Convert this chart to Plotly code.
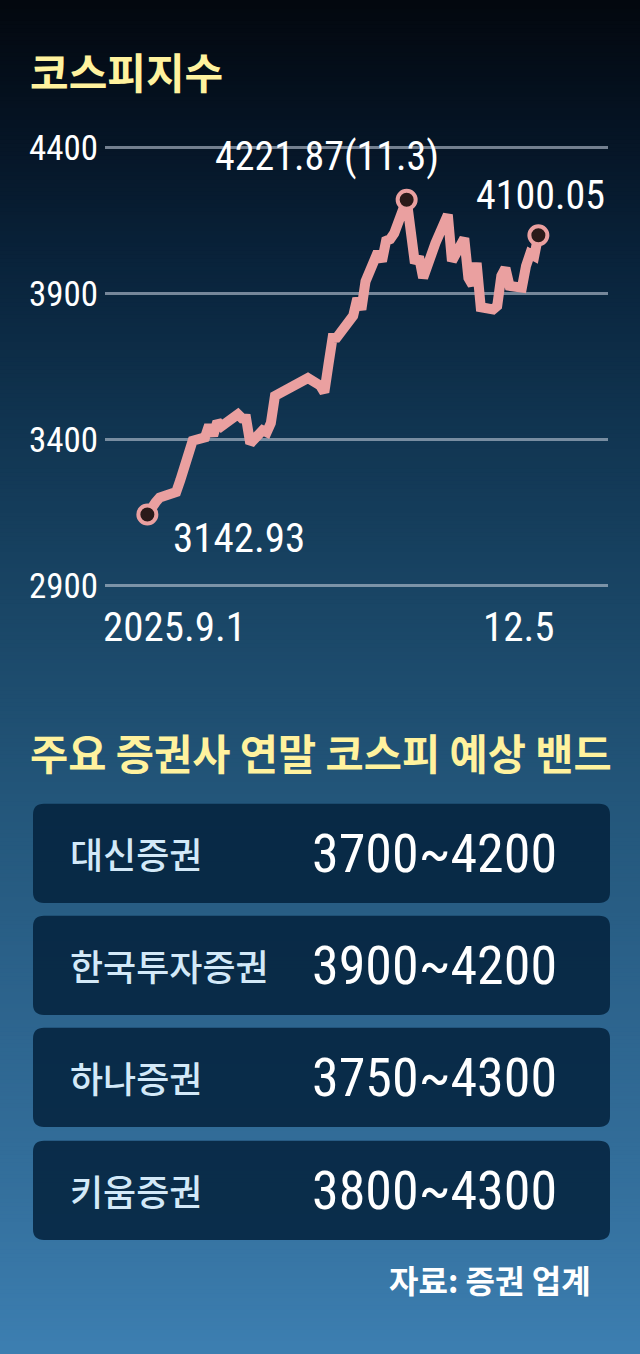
import plotly.graph_objects as go
import pandas as pd

W, H = 640, 1354

# ---------------- data ----------------
dates = [
    "2025-09-01", "2025-09-02", "2025-09-03", "2025-09-04", "2025-09-05",
    "2025-09-08", "2025-09-09", "2025-09-10", "2025-09-11", "2025-09-12",
    "2025-09-15", "2025-09-16", "2025-09-17", "2025-09-18", "2025-09-19",
    "2025-09-22", "2025-09-23", "2025-09-24", "2025-09-25", "2025-09-26",
    "2025-09-29", "2025-09-30",
    "2025-10-01", "2025-10-02", "2025-10-10", "2025-10-13", "2025-10-14",
    "2025-10-15", "2025-10-16", "2025-10-17", "2025-10-20", "2025-10-21",
    "2025-10-22", "2025-10-23", "2025-10-24", "2025-10-27", "2025-10-28",
    "2025-10-29", "2025-10-30", "2025-10-31",
    "2025-11-03", "2025-11-04", "2025-11-05", "2025-11-06", "2025-11-07",
    "2025-11-10", "2025-11-11", "2025-11-12", "2025-11-13", "2025-11-14",
    "2025-11-17", "2025-11-18", "2025-11-19", "2025-11-20", "2025-11-21",
    "2025-11-24", "2025-11-25", "2025-11-26", "2025-11-27", "2025-11-28",
    "2025-12-01", "2025-12-02", "2025-12-03", "2025-12-04", "2025-12-05",
]
kospi = [
    3142.93, 3172.35, 3184.42, 3200.83, 3205.12,
    3219.59, 3260.05, 3314.53, 3344.20, 3395.54,
    3407.31, 3449.62, 3413.26, 3461.30, 3445.24,
    3468.65, 3486.19, 3472.14, 3471.11, 3386.05,
    3431.21, 3424.60,
    3455.83, 3549.21, 3610.60, 3584.55, 3561.81,
    3657.28, 3748.37, 3748.89, 3814.69, 3823.84,
    3883.68, 3845.56, 3941.59, 4042.83, 4010.41,
    4081.15, 4086.89, 4107.50,
    4221.87, 4121.74, 4004.42, 4026.45, 3953.76,
    4073.24, 4106.39, 4150.39, 4170.63, 4011.57,
    4089.25, 3953.62, 3929.51, 4004.85, 3853.26,
    3846.06, 3857.78, 3960.87, 3986.91, 3926.59,
    3920.37, 3994.93, 4036.30, 4028.51, 4100.05,
]
y_ticks = [2900, 3400, 3900, 4400]
x_labels = ["2025.9.1", "12.5"]

title_main = "코스피지수"
title_band = "주요 증권사 연말 코스피 예상 밴드"
brokers = ["대신증권", "한국투자증권", "하나증권", "키움증권"]
band_low = [3700, 3900, 3750, 3800]
band_high = [4200, 4200, 4300, 4300]
source = "자료: 증권 업계"

# ---------------- styles ----------------
NUM_FONT = "Liberation Sans Narrow, Roboto Condensed, Arial Narrow, Liberation Sans, sans-serif"
KR_FONT = "Noto Sans CJK KR, Noto Sans, sans-serif"
YELLOW = "#fff29e"
LINE_COL = "#eaa0a0"
GRID_COL = "rgba(190,200,215,0.6)"

bg_stops = [
    (0, (3, 8, 15)), (120, (5, 19, 35)), (260, (9, 35, 59)), (420, (16, 52, 80)),
    (600, (25, 69, 101)), (800, (35, 86, 122)), (1000, (44, 99, 140)),
    (1200, (52, 112, 157)), (1354, (60, 126, 176)),
]


def X(p):
    return p / W


def Y(p):
    return 1 - p / H


def bg_color(p):
    for (p0, c0), (p1, c1) in zip(bg_stops[:-1], bg_stops[1:]):
        if p0 <= p <= p1:
            t = (p - p0) / (p1 - p0)
            return "rgb(%d,%d,%d)" % tuple(round(a + (b - a) * t) for a, b in zip(c0, c1))
    return "rgb(%d,%d,%d)" % bg_stops[-1][1]


def rrect(x0, y0, x1, y1, r):
    return (f"M {X(x0 + r)},{Y(y0)} L {X(x1 - r)},{Y(y0)} Q {X(x1)},{Y(y0)} {X(x1)},{Y(y0 + r)} "
            f"L {X(x1)},{Y(y1 - r)} Q {X(x1)},{Y(y1)} {X(x1 - r)},{Y(y1)} "
            f"L {X(x0 + r)},{Y(y1)} Q {X(x0)},{Y(y1)} {X(x0)},{Y(y1 - r)} "
            f"L {X(x0)},{Y(y0 + r)} Q {X(x0)},{Y(y0)} {X(x0 + r)},{Y(y0)} Z")


shapes = []
band = 4
for p in range(0, H, band):
    shapes.append(dict(type="rect", xref="paper", yref="paper", x0=-0.01, x1=1.01,
                       y0=Y(p + band + 1) if p + band < H else -0.02, y1=Y(p) if p > 0 else 1.02,
                       fillcolor=bg_color(p + band / 2),
                       line=dict(width=0), layer="below"))

# ---------------- figure ----------------
df = pd.DataFrame({"date": pd.to_datetime(dates), "v": kospi})
i_peak = int(df["v"].idxmax())
key_idx = [0, i_peak, len(df) - 1]

fig = go.Figure()
fig.add_trace(go.Scatter(x=df["date"], y=df["v"], mode="lines",
                         line=dict(color=LINE_COL, width=10), hoverinfo="skip"))
fig.add_trace(go.Scatter(x=df["date"].iloc[key_idx], y=df["v"].iloc[key_idx], mode="markers",
                         marker=dict(size=18, color="#2b1a19", line=dict(color=LINE_COL, width=4)),
                         hoverinfo="skip"))

annotations = []
d0, v0 = df["date"].iloc[0], df["v"].iloc[0]
dp, vp = df["date"].iloc[i_peak], df["v"].iloc[i_peak]
de, ve = df["date"].iloc[-1], df["v"].iloc[-1]
val_font = dict(family=NUM_FONT, size=40, color="white")
annotations.append(dict(x=d0, y=v0, xref="x", yref="y", text=f"{v0:.2f}", showarrow=False,
                        xanchor="left", yanchor="middle", xshift=24, yshift=-24,
                        font=dict(family=NUM_FONT, size=41, color="white")))
annotations.append(dict(x=dp, y=vp, xref="x", yref="y", text=f"{vp:.2f}({dp.month}.{dp.day})",
                        showarrow=False, xanchor="right", yanchor="middle", xshift=34, yshift=43,
                        font=val_font))
annotations.append(dict(x=de, y=ve, xref="x", yref="y", text=f"{ve:.2f}", showarrow=False,
                        xanchor="center", yanchor="middle", xshift=2, yshift=40, font=val_font))
xl_font = dict(family=NUM_FONT, size=41, color="white")
annotations.append(dict(x=d0, y=Y(628), xref="x", yref="paper", text=x_labels[0], showarrow=False,
                        xanchor="left", yanchor="middle", xshift=-46, font=xl_font))
annotations.append(dict(x=de, y=Y(628), xref="x", yref="paper", text=x_labels[1], showarrow=False,
                        xanchor="right", yanchor="middle", xshift=19, font=xl_font))
annotations.append(dict(x=X(28), y=Y(66), xref="paper", yref="paper", text=title_main,
                        showarrow=False, xanchor="left", yanchor="middle",
                        font=dict(family=KR_FONT, size=42, color=YELLOW, weight=700)))
annotations.append(dict(x=X(28), y=Y(754), xref="paper", yref="paper", text=title_band,
                        showarrow=False, xanchor="left", yanchor="middle",
                        font=dict(family=KR_FONT, size=41.5, color=YELLOW, weight=700)))
box_top = [806, 919, 1032, 1146]
box_h = 100
for i, name in enumerate(brokers):
    t = box_top[i]
    shapes.append(dict(type="path", xref="paper", yref="paper", path=rrect(33, t, 610, t + box_h, 11),
                       fillcolor="rgba(4,34,60,0.86)", line=dict(width=0), layer="below"))
    cy = Y(t + box_h / 2)
    annotations.append(dict(x=X(68), y=cy, xref="paper", yref="paper", text=name, showarrow=False,
                            xanchor="left", yanchor="middle",
                            font=dict(family=KR_FONT, size=36, color="#d3e9f8", weight=500)))
    annotations.append(dict(x=X(310), y=cy, xref="paper", yref="paper",
                            text=f"{band_low[i]}~{band_high[i]}", showarrow=False,
                            xanchor="left", yanchor="middle",
                            font=dict(family=NUM_FONT, size=54, color="white")))
annotations.append(dict(x=X(593), y=Y(1285), xref="paper", yref="paper", text=source,
                        showarrow=False, xanchor="right", yanchor="middle",
                        font=dict(family=KR_FONT, size=32, color="white", weight=700)))

y_lo, y_hi = 2850, 4450
fig.update_layout(
    width=W, height=H, autosize=False,
    margin=dict(l=0, r=0, t=0, b=0),
    paper_bgcolor="rgb(60,126,176)", plot_bgcolor="rgba(0,0,0,0)",
    showlegend=False,
    shapes=shapes, annotations=annotations,
    xaxis=dict(domain=[X(105), X(608)], type="date",
               range=["2025-08-21 17:00", "2025-12-21 22:00"],
               showgrid=False, showticklabels=False, zeroline=False, showline=False, ticks=""),
    yaxis=dict(domain=[Y(600.2), Y(129.3)], range=[y_lo, y_hi],
               tickvals=y_ticks, ticktext=[str(v) for v in y_ticks],
               showgrid=True, gridcolor=GRID_COL, gridwidth=2.5,
               zeroline=False, showline=False, ticks="", ticklabelstandoff=6,
               tickfont=dict(family=NUM_FONT, size=35, color="white")),
)

fig.write_html("out.html", config={"displayModeBar": False},
               post_script="document.body.style.margin='0';document.body.style.padding='0';"
                           "document.body.style.overflow='hidden';")
